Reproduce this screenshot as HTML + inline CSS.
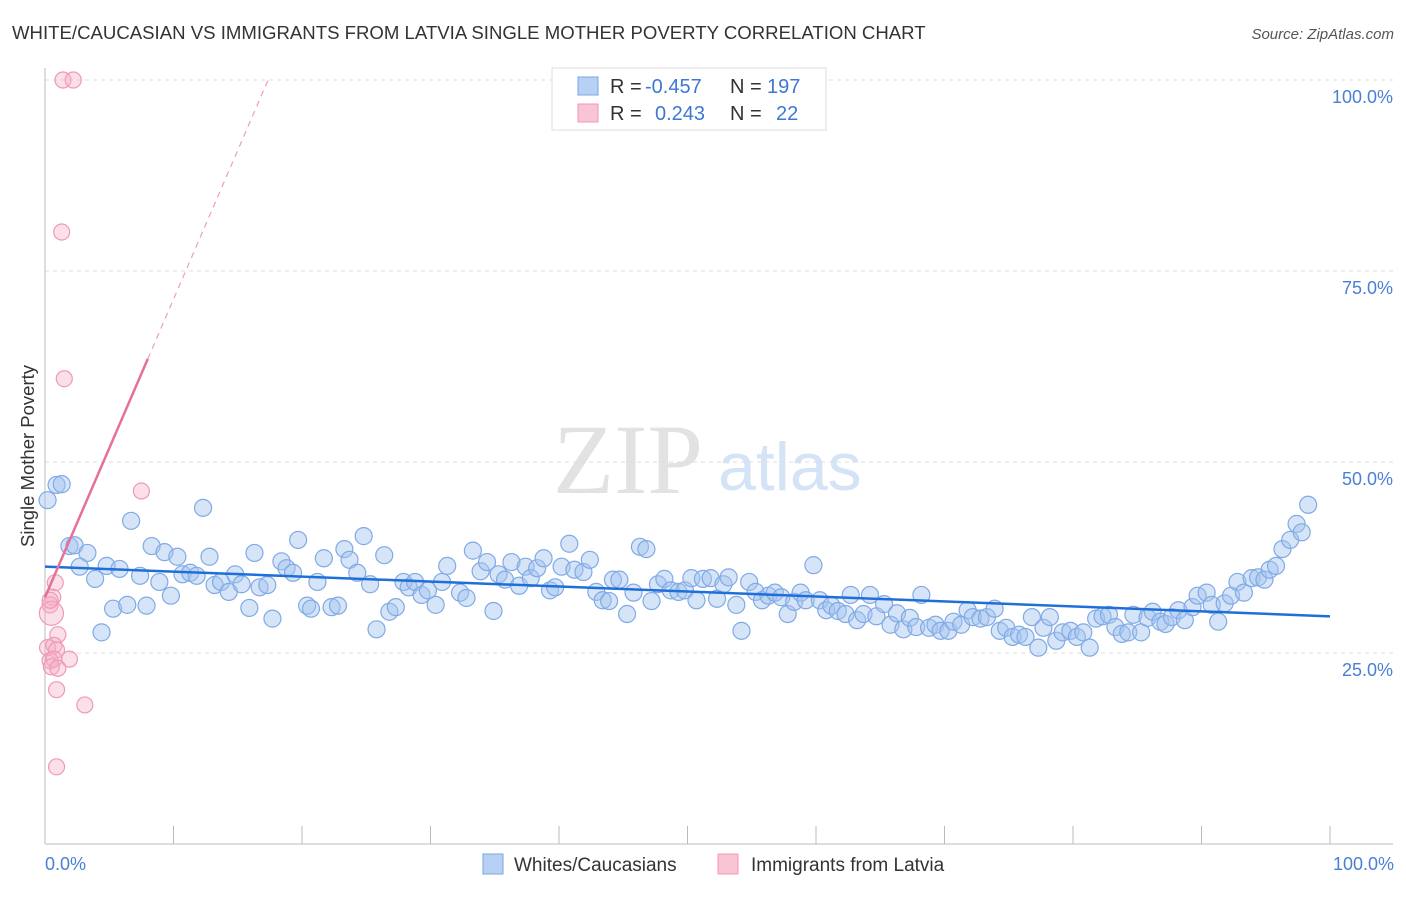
<!DOCTYPE html>
<html><head><meta charset="utf-8"><style>
body{margin:0;background:#fff;font-family:"Liberation Sans",sans-serif}
</style></head><body>
<svg id="chart" width="1406" height="892" xmlns="http://www.w3.org/2000/svg" font-family="Liberation Sans, sans-serif">
<text x="12" y="39" font-size="18.6" fill="#333">WHITE/CAUCASIAN VS IMMIGRANTS FROM LATVIA SINGLE MOTHER POVERTY CORRELATION CHART</text>
<text x="1394" y="39" font-size="15" fill="#555" font-style="italic" text-anchor="end">Source: ZipAtlas.com</text>
<text x="553" y="493" font-size="100" font-family="Liberation Serif, serif" fill="#e2e2e2">ZIP</text>
<text x="718" y="490" font-size="68" fill="#d4e3f6">atlas</text>
<text transform="translate(34,456) rotate(-90)" font-size="18.5" fill="#333" text-anchor="middle">Single Mother Poverty</text>
<g id="grid"></g><g id="ticks"></g><g id="pts"></g><g id="lines"></g>
<g>
<rect x="552" y="68" width="274" height="62" fill="#fff" stroke="#ddd"/>
<rect x="578" y="77" width="20" height="18" fill="#b8d0f3" stroke="#7aa6e3"/>
<text x="610" y="93" font-size="20" fill="#333">R = </text><text x="645" y="93" font-size="20" fill="#3d78d6">-0.457</text>
<text x="730" y="93" font-size="20" fill="#333">N = </text><text x="767" y="93" font-size="20" fill="#3d78d6">197</text>
<rect x="578" y="104" width="20" height="18" fill="#f9c4d4" stroke="#ee9ab5"/>
<text x="610" y="120" font-size="20" fill="#333">R = </text><text x="655" y="120" font-size="20" fill="#3d78d6">0.243</text>
<text x="730" y="120" font-size="20" fill="#333">N = </text><text x="776" y="120" font-size="20" fill="#3d78d6">22</text>
</g>
<g>
<rect x="483" y="854" width="20" height="20" fill="#b8d0f3" stroke="#7aa6e3"/>
<text x="514" y="871" font-size="19" fill="#333">Whites/Caucasians</text>
<rect x="718" y="854" width="20" height="20" fill="#f9c4d4" stroke="#ee9ab5"/>
<text x="751" y="871" font-size="19" fill="#333">Immigrants from Latvia</text>
</g>
</svg>
<script>
const blueX=[0.2,0.9,1.3,1.9,2.3,3.3,2.7,3.9,4.4,4.8,5.3,5.8,6.4,6.7,7.4,7.9,8.3,8.9,9.3,9.8,10.3,10.7,11.3,11.8,12.3,12.8,13.2,13.7,14.3,14.8,15.3,15.9,16.3,16.7,17.3,17.7,18.4,18.8,19.3,19.7,20.4,20.7,21.2,21.7,22.3,22.8,23.3,23.7,24.3,24.8,25.3,25.8,26.4,26.8,27.3,27.9,28.3,28.8,29.3,29.8,30.4,30.9,31.3,32.3,32.8,33.3,33.9,34.4,34.9,35.3,35.8,36.3,36.9,37.4,37.8,38.3,38.8,39.3,39.7,40.2,40.8,41.2,41.9,42.4,42.9,43.4,43.9,44.2,44.7,45.3,45.8,46.3,46.8,47.2,47.7,48.2,48.7,49.3,49.8,50.3,50.7,51.2,51.8,52.3,52.8,53.2,53.8,54.2,54.8,55.3,55.8,56.3,56.8,57.3,57.8,58.3,58.8,59.2,59.8,60.3,60.8,61.2,61.7,62.3,62.7,63.2,63.7,64.2,64.7,65.3,65.8,66.3,66.8,67.3,67.8,68.2,68.8,69.3,69.7,70.3,70.7,71.3,71.8,72.2,72.8,73.3,73.9,74.3,74.8,75.3,75.8,76.3,76.8,77.3,77.7,78.2,78.7,79.2,79.8,80.3,80.8,81.3,81.8,82.3,82.8,83.3,83.8,84.3,84.7,85.3,85.8,86.2,86.8,87.2,87.7,88.2,88.7,89.3,89.7,90.4,90.8,91.3,91.8,92.3,92.8,93.3,93.9,94.4,94.9,95.3,95.8,96.3,96.9,97.4,97.8,98.3];
const blueY=[45.0,47.0,47.1,39.0,39.1,38.1,36.3,34.7,27.7,36.4,30.8,36.0,31.3,42.3,35.1,31.2,39.0,34.3,38.2,32.5,37.6,35.3,35.5,35.1,44.0,37.6,33.9,34.3,33.0,35.3,34.0,30.9,38.1,33.6,33.9,29.5,37.0,36.1,35.5,39.8,31.2,30.8,34.3,37.4,31.0,31.2,38.6,37.2,35.5,40.3,34.0,28.1,37.8,30.4,31.0,34.3,33.6,34.3,32.6,33.2,31.3,34.3,36.4,32.9,32.2,38.4,35.7,36.9,30.5,35.3,34.6,36.9,33.8,36.3,34.8,36.1,37.4,33.2,33.6,36.3,39.3,35.9,35.6,37.2,33.0,31.9,31.8,34.6,34.6,30.1,32.9,38.9,38.6,31.8,34.0,34.7,33.2,33.0,33.2,34.8,31.9,34.7,34.8,32.1,34.0,34.9,31.3,27.9,34.3,33.0,31.9,32.5,32.9,32.3,30.1,31.7,32.9,31.9,36.5,31.9,30.6,31.2,30.5,30.1,32.6,29.3,30.1,32.6,29.8,31.4,28.7,30.2,28.1,29.6,28.4,32.6,28.3,28.7,27.9,27.9,29.1,28.7,30.6,29.7,29.5,29.7,30.8,27.9,28.3,27.1,27.4,27.1,29.7,25.7,28.3,29.7,26.6,27.7,27.9,27.1,27.7,25.7,29.5,29.8,30.0,28.4,27.5,27.7,30.0,27.7,29.6,30.4,29.1,28.8,29.7,30.6,29.3,31.0,32.5,32.9,31.3,29.1,31.5,32.5,34.3,32.9,34.8,34.9,34.6,35.9,36.4,38.6,39.8,41.9,40.8,44.4];
const pinkX=[1.4,2.2,1.3,1.5,7.5,0.8,0.6,0.4,0.5,1.0,0.2,0.7,0.9,1.9,0.4,0.7,0.5,1.0,0.9,3.1,0.9,0.4];
const pinkY=[100,100,80.1,60.9,46.2,34.2,32.3,31.3,30.2,27.4,25.7,26.0,25.4,24.2,24.0,24.2,23.2,23.0,20.2,18.2,10.1,31.9];
const yTicks=[100,75,50,25];
const yTickLabels=["100.0%","75.0%","50.0%","25.0%"];
const blueTrend=[36.3,29.8];
const pinkTrend=[32.3,3.9];
const NS="http://www.w3.org/2000/svg";
const sx=v=>45+v*12.85, sy=v=>844-v*7.64;
function mk(tag,at,parent){const e=document.createElementNS(NS,tag);for(const k in at)e.setAttribute(k,at[k]);document.getElementById(parent).appendChild(e);return e;}
yTicks.forEach((t,i)=>{
 const l=mk('line',{x1:45,x2:1393,y1:sy(t),y2:sy(t),stroke:'#ddd','stroke-dasharray':'4,4'},'grid');
 
 
 const tx=mk('text',{x:1393,y:sy(t)+23,'font-size':18,fill:'#4a7fd4','text-anchor':'end'},'ticks');
 tx.textContent=yTickLabels[i];
 
 
});
const ax=mk('line',{x1:45,x2:45,y1:68,y2:844,stroke:'#bbb'},'grid');


const bx=mk('line',{x1:45,x2:1393,y1:844,y2:844,stroke:'#bbb'},'grid');


for(let i=0;i<=10;i++){const t=mk('line',{x1:sx(i*10),x2:sx(i*10),y1:826,y2:844,stroke:'#bbb'},'grid');
 
 }
const x0=mk('text',{x:45,y:870,'font-size':18,fill:'#4a7fd4'},'ticks');x0.textContent='0.0%';


const x1=mk('text',{x:1394,y:870,'font-size':18,fill:'#4a7fd4','text-anchor':'end'},'ticks');x1.textContent='100.0%';


blueX.forEach((x,i)=>{const c=mk('circle',{cx:sx(x),cy:sy(blueY[i]),r:8.5,fill:'rgba(164,196,240,0.45)',stroke:'#80aae6','stroke-width':1.2},'pts');
 
 });
pinkX.forEach((x,i)=>{const c=mk('circle',{cx:sx(x),cy:sy(pinkY[i]),r:i==8?12:8,fill:'rgba(246,175,200,0.4)',stroke:'#ee9ab5','stroke-width':1.2},'pts');
 
 });
const bl=mk('line',{x1:sx(0),y1:sy(blueTrend[0]),x2:sx(100),y2:sy(blueTrend[1]),stroke:'#1f6fd8','stroke-width':2.5},'lines');


const pEnd=8;const pMax=(100-pinkTrend[0])/pinkTrend[1];
const pl=mk('line',{x1:sx(0),y1:sy(pinkTrend[0]),x2:sx(pEnd),y2:sy(pinkTrend[0]+pinkTrend[1]*pEnd),stroke:'#e5709a','stroke-width':2.5},'lines');


const pd=mk('line',{x1:sx(pEnd),y1:sy(pinkTrend[0]+pinkTrend[1]*pEnd),x2:sx(pMax),y2:sy(100),stroke:'#eaa0ba','stroke-width':1.2,'stroke-dasharray':'6,5'},'lines');


</script>
</body></html>
